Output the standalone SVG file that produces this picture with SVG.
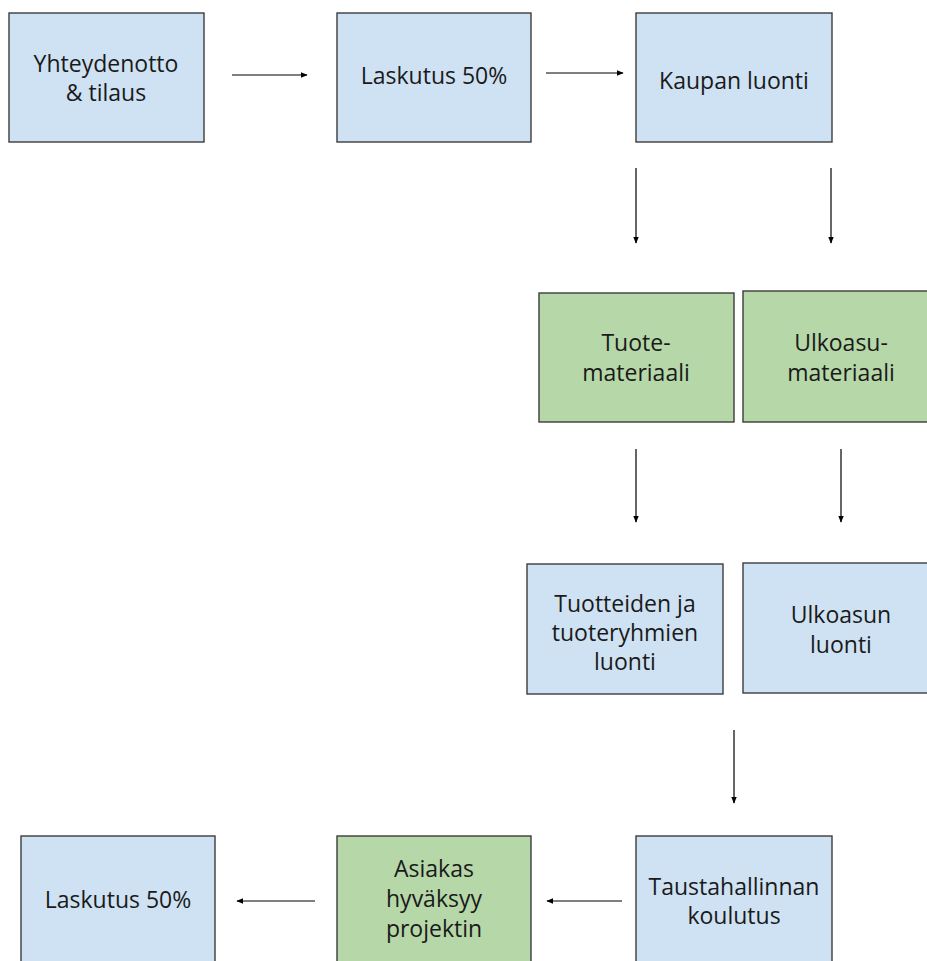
<svg xmlns="http://www.w3.org/2000/svg" width="927" height="961" viewBox="0 0 927 961">
<style>
.box{stroke:#3c3c3c;stroke-width:1.4}
.blue{fill:#cfe2f3}
.green{fill:#b6d7a8}
text{font-family:"Open Sans","DejaVu Sans",sans-serif;font-size:23px;fill:#1a1a1a;text-anchor:middle;dominant-baseline:central}
.conn line{stroke:#000;stroke-width:1.2;marker-end:url(#ah)}
</style>
<defs>
<marker id="ah" viewBox="0 0 10 10" refX="9" refY="5" markerWidth="7" markerHeight="7" markerUnits="userSpaceOnUse" orient="auto">
<path d="M0,1 L10,5 L0,9 Z" fill="#000"/>
</marker>
</defs>
<rect width="927" height="961" fill="#fff"/>
<g id="n1"><rect class="box blue" x="9" y="13" width="195" height="129"/><text x="106" y="63">Yhteydenotto</text><text x="106" y="92">&amp; tilaus</text></g>
<g id="n2"><rect class="box blue" x="337" y="13" width="194" height="129"/><text x="434" y="75">Laskutus 50%</text></g>
<g id="n3"><rect class="box blue" x="636" y="13" width="196" height="129"/><text x="734" y="80">Kaupan luonti</text></g>
<g id="n4"><rect class="box green" x="539" y="293" width="195" height="129"/><text x="636" y="342">Tuote-</text><text x="636" y="372">materiaali</text></g>
<g id="n5"><rect class="box green" x="743" y="291" width="190" height="131"/><text x="841" y="342">Ulkoasu-</text><text x="841" y="372">materiaali</text></g>
<g id="n6"><rect class="box blue" x="527" y="564" width="196" height="130"/><text x="625" y="603">Tuotteiden ja</text><text x="625" y="632">tuoteryhmien</text><text x="625" y="661">luonti</text></g>
<g id="n7"><rect class="box blue" x="743" y="563" width="190" height="130"/><text x="841" y="614">Ulkoasun</text><text x="841" y="644">luonti</text></g>
<g id="n8"><rect class="box blue" x="21" y="836" width="194" height="135"/><text x="118" y="899">Laskutus 50%</text></g>
<g id="n9"><rect class="box green" x="337" y="836" width="194" height="135"/><text x="434" y="868">Asiakas</text><text x="434" y="898">hyväksyy</text><text x="434" y="928">projektin</text></g>
<g id="n10"><rect class="box blue" x="636" y="836" width="196" height="135"/><text x="734" y="886">Taustahallinnan</text><text x="734" y="915">koulutus</text></g>
<g class="conn" id="connectors">
<line x1="232" y1="75" x2="307" y2="75"/>
<line x1="546" y1="73" x2="623" y2="73"/>
<line x1="636" y1="168" x2="636" y2="243"/>
<line x1="831" y1="168" x2="831" y2="243"/>
<line x1="636" y1="449" x2="636" y2="522"/>
<line x1="841" y1="449" x2="841" y2="522"/>
<line x1="734" y1="730" x2="734" y2="803"/>
<line x1="315" y1="901" x2="237" y2="901"/>
<line x1="622" y1="901" x2="547" y2="901"/>
</g>
</svg>
